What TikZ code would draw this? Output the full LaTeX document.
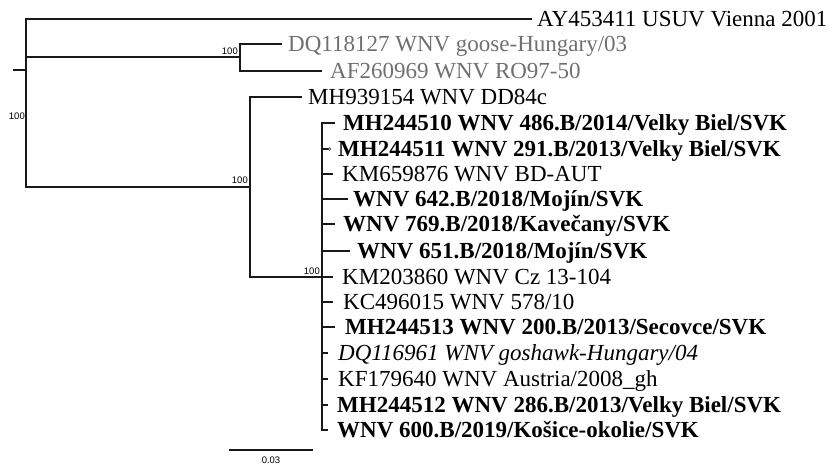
\documentclass[tikz,border=0pt]{standalone}
\usepackage{fontspec}
\setmainfont{Liberation Serif}
\newfontfamily\bootfont{Liberation Sans}
\usetikzlibrary{positioning,calc}
\definecolor{outgray}{RGB}{112,112,112}
\definecolor{brgray}{RGB}{25,25,25}
\tikzset{
  br/.style={draw=brgray, line width=1.4pt},
  leaf/.style={anchor=west, inner sep=0pt, text height=16pt, text depth=1pt,
               font=\fontsize{23}{23}\selectfont},
  leafb/.style={leaf, font=\fontsize{23}{23}\selectfont\bfseries},
  leafg/.style={leaf, text=outgray},
  leafi/.style={leaf, font=\fontsize{23}{23}\selectfont\itshape},
  boot/.style={anchor=base east, inner sep=0pt, font=\fontsize{9.5}{10}\bootfont},
}

\begin{document}
\begin{tikzpicture}[x=1pt, y=-1pt]
  \useasboundingbox (0,0) rectangle (832,465);
  % --- internal nodes
  \coordinate (r0) at (13,70);
  \coordinate (r)  at (26,70);
  \coordinate (n1) at (240,57);
  \coordinate (n2) at (250,187);
  \coordinate (n3) at (322,277);
  % --- outgroups
  \node[leaf]  (ay) at (537,19) {AY453411 USUV Vienna 2001};
  \node[leafg] (dq) at (288,44) {DQ118127 WNV goose-Hungary/03};
  \node[leafg] (af) at (330,71) {AF260969 WNV RO97-50};
  \node[leaf]  (dd) at (308,97) {MH939154 WNV DD84c};
  % --- main clade
  \node[leafb] (a1)  at (343,123) {MH244510 WNV 486.B/2014/Velky Biel/SVK};
  \node[leafb] (a2)  at (338,149) {MH244511 WNV 291.B/2013/Velky Biel/SVK};
  \node[leaf]  (a3)  at (342,174) {KM659876 WNV BD-AUT};
  \node[leafb] (a4)  at (353,199) {WNV 642.B/2018/Mojín/SVK};
  \node[leafb] (a5)  at (343,224) {WNV 769.B/2018/Kavečany/SVK};
  \node[leafb] (a6)  at (357,251) {WNV 651.B/2018/Mojín/SVK};
  \node[leaf]  (a7)  at (342,277) {KM203860 WNV Cz 13-104};
  \node[leaf]  (a8)  at (343,302) {KC496015 WNV 578/10};
  \node[leafb] (a9)  at (345,327) {MH244513 WNV 200.B/2013/Secovce/SVK};
  \node[leafi] (a10) at (338,353) {DQ116961 WNV goshawk-Hungary/04};
  \node[leaf]  (a11) at (338,379) {KF179640 WNV Austria/2008\_gh};
  \node[leafb] (a12) at (337,405) {MH244512 WNV 286.B/2013/Velky Biel/SVK};
  \node[leafb] (a13) at (337,430) {WNV 600.B/2019/Košice-okolie/SVK};
  % --- branches
  \draw[br] (r0) -- (r);
  \draw[br] ([xshift=-5pt]ay.west) -| (r) |- (n2);
  \draw[br] (r) |- (n1);
  \draw[br] ([xshift=-6pt]dq.west) -| (n1) |- ([xshift=-8pt]af.west);
  \draw[br] ([xshift=-6pt]dd.west) -| (n2) |- (n3);
  \draw[br] ([xshift=-8pt]a1.west) -| (n3) |- ([xshift=-9pt]a13.west);
  \draw[br] (n3 |- a2) -- ++(6,0) coordinate (dot);
  \draw[br, fill=white, line width=0.6pt] ($(dot)+(1.4,0)$) circle (1.4pt);
  \draw[br] (n3 |- a3)  -- ([xshift=-9pt]a3.west);
  \draw[br] (n3 |- a4)  -- ([xshift=-5pt]a4.west);
  \draw[br] (n3 |- a5)  -- ([xshift=-8pt]a5.west);
  \draw[br] (n3 |- a6)  -- ([xshift=-7pt]a6.west);
  \draw[br] (n3 |- a7)  -- ([xshift=-9pt]a7.west);
  \draw[br] (n3 |- a8)  -- ([xshift=-10pt]a8.west);
  \draw[br] (n3 |- a9)  -- ([xshift=-10pt]a9.west);
  \draw[br] (n3 |- a10) -- ([xshift=-10pt]a10.west);
  \draw[br] (n3 |- a11) -- ([xshift=-10pt]a11.west);
  \draw[br] (n3 |- a12) -- ([xshift=-9pt]a12.west);
  % --- bootstrap values
  \node[boot] (b0) at (25,120)  {100};
  \node[boot] (b1) at (238,55)  {100};
  \node[boot] (b2) at (248,184) {100};
  \node[boot] (b3) at (320,274) {100};
  % --- scale bar
  \coordinate (s0) at (229,450);
  \coordinate (s1) at (313,450);
  \draw[br] (s0) -- (s1);
  \node[font=\fontsize{9.5}{10}\bootfont, inner sep=0pt] (sl) at (271,460) {0.03};
\end{tikzpicture}
\end{document}
